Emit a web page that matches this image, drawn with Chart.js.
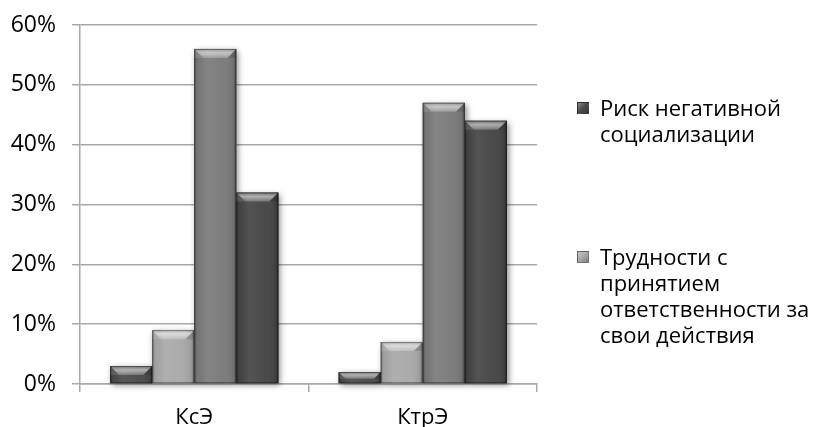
<!DOCTYPE html>
<html lang="ru">
<head>
<meta charset="utf-8">
<script src="https://cdn.jsdelivr.net/npm/chart.js@4"></script>
<style>
  html, body { margin: 0; padding: 0; background: #fff; }
  #wrap { position: relative; width: 817px; height: 427px; overflow: hidden; }
  #chart { position: absolute; left: 0; top: 0; }
  #legend { position: absolute; left: 577px; top: 0; width: 240px; font-family: "Open Sans", sans-serif; font-size: 22px; line-height: 26px; color: #000; }
  .item { position: absolute; left: 0; width: 240px; }
  .box { position: absolute; left: 0; top: 8px; width: 12px; height: 12px; box-sizing: border-box; border: 1px solid rgba(0,0,0,0.35); }
  .txt { position: absolute; left: 23px; width: 217px; }
</style>
</head>
<body>
<div id="wrap">
  <canvas id="chart" width="817" height="427"></canvas>
  <div id="legend"></div>
</div>
<script>
// Categories and series values (percent)
const categories = ['КсЭ', 'КтрЭ'];
const seriesNames = [
  'Риск негативной социализации',
  'Трудности с принятием ответственности за свои действия',
  'Ряд 3',
  'Ряд 4'
];
const riskValues = [3, 2];
const difficultyValues = [9, 7];
const series3Values = [56, 47];
const series4Values = [32, 44];
const yTickValues = [0, 10, 20, 30, 40, 50, 60];

const seriesColors = ['#4b4b4b', '#a9a9a9', '#7b7b7b', '#464646'];
const legendCount = 2;
const legendTops = [94, 243];

const gridColor = '#a8a8a8';

// Soft drop shadow under all bars, drawn before the bars themselves
const shadowPlugin = {
  id: 'barShadow',
  beforeDatasetsDraw(chart) {
    const ctx = chart.ctx;
    ctx.save();
    ctx.shadowColor = 'rgba(0,0,0,0.45)';
    ctx.shadowBlur = 6;
    ctx.shadowOffsetX = 2;
    ctx.shadowOffsetY = 2;
    chart.data.datasets.forEach((ds, i) => {
      const meta = chart.getDatasetMeta(i);
      meta.data.forEach(el => {
        const p = el.getProps(['x', 'y', 'base', 'width'], true);
        ctx.fillStyle = ds.backgroundColor;
        ctx.fillRect(p.x - p.width / 2, p.y, p.width, p.base - p.y);
      });
    });
    ctx.restore();
  }
};

// Bevelled top and shaded sides on each bar
const bevelPlugin = {
  id: 'barBevel',
  afterDatasetsDraw(chart) {
    const ctx = chart.ctx;
    chart.data.datasets.forEach((ds, i) => {
      const meta = chart.getDatasetMeta(i);
      meta.data.forEach(el => {
        const p = el.getProps(['x', 'y', 'base', 'width'], true);
        const L = p.x - p.width / 2, R = p.x + p.width / 2;
        const T = p.y, B = p.base;
        const h = B - T;
        if (h <= 0) return;
        const b = Math.min(9, h * 0.6, p.width / 4);
        ctx.save();
        // body: lighter centre, darker edges
        const hg = ctx.createLinearGradient(L, 0, R, 0);
        hg.addColorStop(0, 'rgba(0,0,0,0.30)');
        hg.addColorStop(0.07, 'rgba(0,0,0,0.05)');
        hg.addColorStop(0.3, 'rgba(255,255,255,0.07)');
        hg.addColorStop(0.7, 'rgba(255,255,255,0.02)');
        hg.addColorStop(0.93, 'rgba(0,0,0,0.08)');
        hg.addColorStop(1, 'rgba(0,0,0,0.38)');
        ctx.fillStyle = hg;
        ctx.fillRect(L, T, R - L, h);
        // left and right bevel triangles
        ctx.fillStyle = 'rgba(255,255,255,0.12)';
        ctx.beginPath();
        ctx.moveTo(L, T); ctx.lineTo(L + b, T + b); ctx.lineTo(L, T + b); ctx.closePath(); ctx.fill();
        ctx.fillStyle = 'rgba(0,0,0,0.12)';
        ctx.beginPath();
        ctx.moveTo(R, T); ctx.lineTo(R - b, T + b); ctx.lineTo(R, T + b); ctx.closePath(); ctx.fill();
        // top face of the bevel
        const vg = ctx.createLinearGradient(0, T, 0, T + b);
        vg.addColorStop(0, 'rgba(255,255,255,0.22)');
        vg.addColorStop(0.45, 'rgba(255,255,255,0.55)');
        vg.addColorStop(1, 'rgba(255,255,255,0.22)');
        ctx.fillStyle = vg;
        ctx.beginPath();
        ctx.moveTo(L, T); ctx.lineTo(R, T); ctx.lineTo(R - b, T + b); ctx.lineTo(L + b, T + b); ctx.closePath();
        ctx.fill();
        // outline
        ctx.strokeStyle = 'rgba(0,0,0,0.4)';
        ctx.lineWidth = 1;
        ctx.strokeRect(L + 0.5, T + 0.5, R - L - 1, h - 1);
        ctx.restore();
      });
    });
  }
};

const datasets = [riskValues, difficultyValues, series3Values, series4Values].map((vals, i) => ({
  label: seriesNames[i],
  data: vals,
  backgroundColor: seriesColors[i],
  borderWidth: 0,
  barPercentage: 1,
  categoryPercentage: 0.736
}));

const chart = new Chart(document.getElementById('chart'), {
  type: 'bar',
  data: { labels: categories, datasets },
  options: {
    responsive: false,
    animation: false,
    events: [],
    layout: { padding: { top: 25, right: 280, bottom: 0, left: 0 } },
    plugins: { legend: { display: false }, tooltip: { enabled: false } },
    scales: {
      x: {
        type: 'category',
        offset: true,
        grid: { offset: true, drawOnChartArea: false, drawTicks: true, tickLength: 8, color: gridColor, lineWidth: 1.5 },
        border: { color: gridColor, width: 1.5 },
        ticks: { color: '#000', font: { family: 'Open Sans', size: 22 }, padding: 13 },
        afterFit(s) { s.height = 43; }
      },
      y: {
        min: 0,
        max: 60,
        afterBuildTicks(s) { s.ticks = yTickValues.map(v => ({ value: v })); },
        grid: { color: gridColor, lineWidth: 1.5, tickLength: 8 },
        border: { color: gridColor, width: 1.5 },
        ticks: {
          color: '#000',
          font: { family: 'Open Sans', size: 23 },
          padding: 16,
          callback: v => v + '%'
        },
        afterFit(s) {
          s.width = 80;
          s.paddingTop = 0;
          s.paddingBottom = 0;
        }
      }
    }
  },
  plugins: [shadowPlugin, bevelPlugin]
});

// HTML legend for the first two series
const legend = document.getElementById('legend');
chart.data.datasets.slice(0, legendCount).forEach((ds, i) => {
  const item = document.createElement('div');
  item.className = 'item';
  item.style.top = legendTops[i] + 'px';
  const box = document.createElement('span');
  box.className = 'box';
  box.style.background = 'linear-gradient(135deg, rgba(255,255,255,0.35), rgba(255,255,255,0) 50%, rgba(0,0,0,0.25)), ' + ds.backgroundColor;
  const txt = document.createElement('div');
  txt.className = 'txt';
  txt.textContent = ds.label;
  item.appendChild(box);
  item.appendChild(txt);
  legend.appendChild(item);
});
</script>
</body>
</html>
